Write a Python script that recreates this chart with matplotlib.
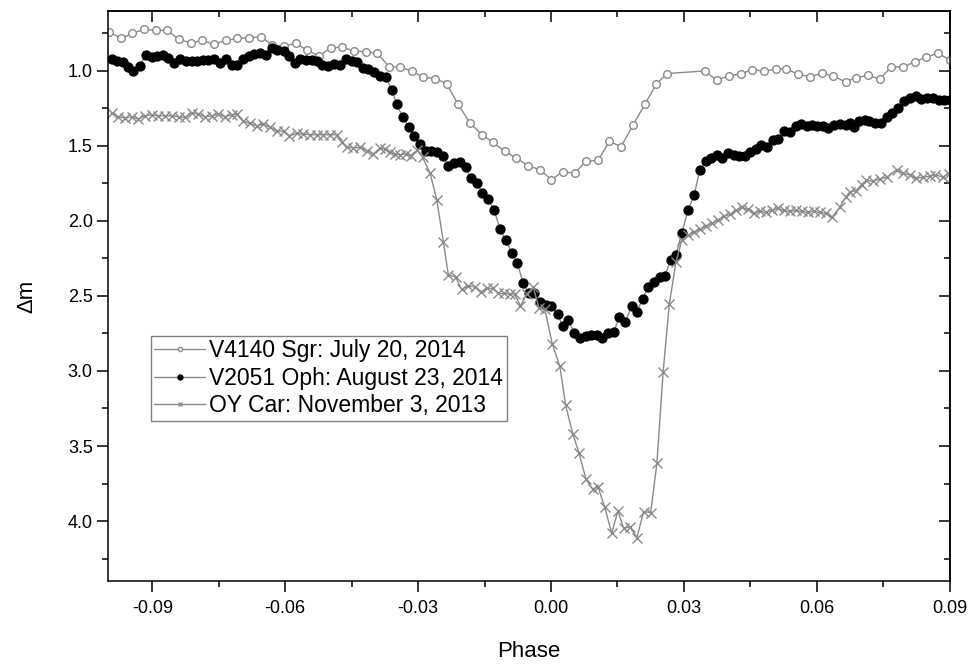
import numpy as np
import matplotlib.pyplot as plt
from matplotlib.ticker import FixedLocator, MultipleLocator

plt.rcParams['font.family'] = ['Liberation Sans', 'DejaVu Sans']

# V4140 Sgr: July 20, 2014
sgr_phase = [-0.0997, -0.0971, -0.0945, -0.0920, -0.0892, -0.0866, -0.0840, -0.0813,
             -0.0787, -0.0761, -0.0734, -0.0708, -0.0682, -0.0655, -0.0629, -0.0604,
             -0.0576, -0.0550, -0.0524, -0.0497, -0.0471, -0.0445, -0.0418, -0.0392,
             -0.0366, -0.0341, -0.0315, -0.0289, -0.0262, -0.0236, -0.0210, -0.0183,
             -0.0155, -0.0131, -0.0104, -0.0078, -0.0052, -0.0025, 0.0001, 0.0027,
             0.0053, 0.0079, 0.0106, 0.0132, 0.0158, 0.0185, 0.0212, 0.0238, 0.0262,
             0.0347, 0.0374, 0.0401, 0.0428, 0.0454, 0.0480, 0.0507, 0.0531, 0.0558,
             0.0584, 0.0612, 0.0637, 0.0665, 0.0689, 0.0716, 0.0742, 0.0768, 0.0795,
             0.0821, 0.0847, 0.0874, 0.0900]
sgr_mag = [0.739, 0.783, 0.750, 0.723, 0.728, 0.730, 0.790, 0.812,
           0.796, 0.823, 0.796, 0.783, 0.779, 0.772, 0.827, 0.834,
           0.816, 0.863, 0.900, 0.845, 0.841, 0.867, 0.872, 0.882,
           0.971, 0.973, 1.000, 1.040, 1.051, 1.084, 1.221, 1.347,
           1.427, 1.476, 1.536, 1.582, 1.631, 1.659, 1.724, 1.671,
           1.682, 1.602, 1.596, 1.469, 1.505, 1.361, 1.221, 1.086, 1.017,
           1.000, 1.062, 1.033, 1.018, 0.993, 1.000, 0.989, 0.985, 1.022,
           1.038, 1.015, 1.033, 1.073, 1.044, 1.029, 1.055, 0.973, 0.973,
           0.940, 0.907, 0.882, 0.927]

# V2051 Oph: August 23, 2014
oph_phase = [-0.0992, -0.0979, -0.0966, -0.0954, -0.0943, -0.0929, -0.0914, -0.0901,
             -0.0889, -0.0875, -0.0864, -0.0851, -0.0838, -0.0824, -0.0811, -0.0799,
             -0.0786, -0.0774, -0.0761, -0.0747, -0.0734, -0.0721, -0.0710, -0.0696,
             -0.0683, -0.0671, -0.0657, -0.0644, -0.0631, -0.0618, -0.0604, -0.0592,
             -0.0579, -0.0567, -0.0553, -0.0540, -0.0529, -0.0516, -0.0503, -0.0490,
             -0.0477, -0.0463, -0.0450, -0.0437, -0.0424, -0.0413, -0.0400, -0.0386,
             -0.0373, -0.0360, -0.0348, -0.0335, -0.0321, -0.0309, -0.0296, -0.0282,
             -0.0270, -0.0258, -0.0245, -0.0232, -0.0219, -0.0206, -0.0193, -0.0181,
             -0.0168, -0.0155, -0.0143, -0.0128, -0.0115, -0.0102, -0.0089, -0.0076,
             -0.0063, -0.0050, -0.0038, -0.0025, -0.0012, 0.0001, 0.0015, 0.0026,
             0.0039, 0.0052, 0.0065, 0.0078, 0.0090, 0.0103, 0.0115, 0.0129, 0.0142,
             0.0154, 0.0168, 0.0182, 0.0193, 0.0207, 0.0219, 0.0232, 0.0246, 0.0257,
             0.0270, 0.0282, 0.0295, 0.0309, 0.0323, 0.0336, 0.0349, 0.0361, 0.0374,
             0.0386, 0.0400, 0.0413, 0.0425, 0.0437, 0.0450, 0.0462, 0.0475, 0.0488,
             0.0501, 0.0513, 0.0525, 0.0539, 0.0552, 0.0564, 0.0577, 0.0589, 0.0601,
             0.0614, 0.0625, 0.0639, 0.0652, 0.0665, 0.0674, 0.0683, 0.0695, 0.0708,
             0.0719, 0.0731, 0.0744, 0.0758, 0.0770, 0.0783, 0.0798, 0.0811, 0.0825,
             0.0836, 0.0849, 0.0862, 0.0875, 0.0887, 0.0900]
oph_mag = [0.922, 0.934, 0.938, 0.973, 1.000, 0.967, 0.894, 0.907,
           0.900, 0.896, 0.912, 0.945, 0.922, 0.934, 0.934, 0.934,
           0.929, 0.925, 0.920, 0.945, 0.922, 0.962, 0.960, 0.922,
           0.900, 0.889, 0.882, 0.894, 0.849, 0.863, 0.867, 0.900,
           0.945, 0.922, 0.929, 0.929, 0.934, 0.962, 0.967, 0.952,
           0.962, 0.918, 0.934, 0.940, 0.978, 0.989, 1.007, 1.033,
           1.040, 1.126, 1.222, 1.310, 1.372, 1.432, 1.487, 1.531,
           1.536, 1.542, 1.564, 1.631, 1.613, 1.604, 1.642, 1.715,
           1.747, 1.811, 1.852, 1.930, 2.056, 2.129, 2.211, 2.280,
           2.416, 2.483, 2.483, 2.539, 2.560, 2.565, 2.620, 2.698,
           2.660, 2.748, 2.782, 2.766, 2.760, 2.760, 2.778, 2.744, 2.738,
           2.642, 2.671, 2.567, 2.605, 2.523, 2.443, 2.406, 2.376, 2.366,
           2.262, 2.228, 2.082, 1.930, 1.830, 1.657, 1.598, 1.582, 1.558,
           1.580, 1.549, 1.560, 1.564, 1.569, 1.542, 1.520, 1.493, 1.505,
           1.460, 1.454, 1.403, 1.410, 1.365, 1.354, 1.370, 1.361, 1.370,
           1.365, 1.380, 1.361, 1.354, 1.359, 1.347, 1.376, 1.332, 1.327,
           1.332, 1.350, 1.350, 1.305, 1.277, 1.250, 1.199, 1.181, 1.166,
           1.188, 1.181, 1.181, 1.193, 1.195, 1.195]

# OY Car: November 3, 2013
car_phase = [-0.0992, -0.0977, -0.0962, -0.0947, -0.0932, -0.0917, -0.0901, -0.0887,
             -0.0871, -0.0856, -0.0841, -0.0826, -0.0811, -0.0796, -0.0781, -0.0766,
             -0.0751, -0.0736, -0.0721, -0.0710, -0.0695, -0.0680, -0.0664, -0.0650,
             -0.0634, -0.0619, -0.0604, -0.0591, -0.0574, -0.0559, -0.0544, -0.0529,
             -0.0514, -0.0499, -0.0484, -0.0473, -0.0461, -0.0446, -0.0431, -0.0416,
             -0.0401, -0.0386, -0.0375, -0.0364, -0.0352, -0.0340, -0.0328, -0.0317,
             -0.0302, -0.0290, -0.0273, -0.0258, -0.0243, -0.0232, -0.0215, -0.0202,
             -0.0187, -0.0172, -0.0157, -0.0144, -0.0132, -0.0119, -0.0106, -0.0093,
             -0.0082, -0.0069, -0.0055, -0.0040, -0.0027, -0.0014, 0.0003, 0.0020,
             0.0033, 0.0049, 0.0063, 0.0079, 0.0094, 0.0106, 0.0121, 0.0137, 0.0151,
             0.0164, 0.0178, 0.0194, 0.0209, 0.0225, 0.0239, 0.0253, 0.0267, 0.0282,
             0.0295, 0.0309, 0.0322, 0.0336, 0.0349, 0.0363, 0.0376, 0.0390, 0.0404,
             0.0417, 0.0431, 0.0444, 0.0458, 0.0471, 0.0485, 0.0498, 0.0512, 0.0525,
             0.0539, 0.0552, 0.0566, 0.0580, 0.0593, 0.0607, 0.0620, 0.0634, 0.0652,
             0.0665, 0.0674, 0.0689, 0.0701, 0.0712, 0.0728, 0.0742, 0.0758, 0.0780,
             0.0795, 0.0810, 0.0825, 0.0840, 0.0855, 0.0868, 0.0884, 0.0898]
car_mag = [1.277, 1.305, 1.314, 1.305, 1.321, 1.299, 1.292, 1.299,
           1.299, 1.299, 1.305, 1.310, 1.277, 1.288, 1.305, 1.299,
           1.288, 1.305, 1.292, 1.288, 1.332, 1.350, 1.365, 1.354,
           1.376, 1.398, 1.403, 1.432, 1.416, 1.420, 1.425, 1.425,
           1.425, 1.425, 1.425, 1.476, 1.509, 1.513, 1.509, 1.531,
           1.553, 1.515, 1.520, 1.542, 1.553, 1.558, 1.553, 1.564,
           1.527, 1.576, 1.682, 1.859, 2.140, 2.357, 2.376, 2.456,
           2.434, 2.439, 2.472, 2.450, 2.450, 2.483, 2.483, 2.487,
           2.487, 2.567, 2.487, 2.443, 2.582, 2.589, 2.821, 2.970,
           3.229, 3.417, 3.545, 3.722, 3.789, 3.771, 3.906, 4.081, 3.933,
           4.048, 4.039, 4.110, 3.937, 3.944, 3.616, 3.010, 2.554, 2.275,
           2.129, 2.096, 2.076, 2.056, 2.036, 2.016, 1.996, 1.969, 1.956,
           1.930, 1.910, 1.923, 1.950, 1.936, 1.943, 1.930, 1.916, 1.930,
           1.936, 1.930, 1.936, 1.943, 1.936, 1.943, 1.950, 1.976, 1.908,
           1.843, 1.808, 1.797, 1.757, 1.730, 1.735, 1.719, 1.708, 1.659,
           1.682, 1.693, 1.715, 1.708, 1.702, 1.691, 1.708, 1.686]

xticks = [-0.09, -0.06, -0.03, 0.00, 0.03, 0.06, 0.09]
xtick_labels = ['-0.09', '-0.06', '-0.03', '0.00', '0.03', '0.06', '0.09']
yticks = [1.0, 1.5, 2.0, 2.5, 3.0, 3.5, 4.0]
ytick_labels = ['1.0', '1.5', '2.0', '2.5', '3.0', '3.5', '4.0']

line_gray = '#8a8a8a'

fig = plt.figure(figsize=(9.74, 6.65), dpi=100)
ax = fig.add_axes([0.111, 0.1263, 0.864, 0.8572])

ax.plot(sgr_phase, sgr_mag, '-', color=line_gray, lw=1.0, marker='o', ms=5.5,
        mfc='white', mec='#8a8a8a', mew=1.0, label='V4140 Sgr: July 20, 2014')
ax.plot(oph_phase, oph_mag, '-', color=line_gray, lw=1.0, marker='o', ms=6.4,
        mfc='black', mec='black', label='V2051 Oph: August 23, 2014')
ax.plot(car_phase, car_mag, '-', color=line_gray, lw=1.0, marker='x', ms=6.5,
        mec='#8a8a8a', mew=1.0, label='OY Car: November 3, 2013')

ax.set_xlim(-0.1, 0.09)
ax.set_ylim(4.4, 0.6)

ax.xaxis.set_major_locator(FixedLocator(xticks))
ax.set_xticklabels(xtick_labels)
ax.xaxis.set_minor_locator(MultipleLocator(0.015))
ax.yaxis.set_major_locator(FixedLocator(yticks))
ax.set_yticklabels(ytick_labels)
ax.yaxis.set_minor_locator(MultipleLocator(0.25))

ax.tick_params(which='major', direction='out', length=8, width=1.1, labelsize=13)
ax.tick_params(which='minor', direction='out', length=4.3, width=1.1)
ax.tick_params(axis='x', which='major', pad=6)
ax.tick_params(axis='y', which='major', pad=3)

# inward ticks on the top and right sides
top = ax.secondary_xaxis('top')
top.xaxis.set_major_locator(FixedLocator(xticks))
top.xaxis.set_minor_locator(MultipleLocator(0.015))
top.tick_params(which='major', direction='in', length=8, width=1.1, labeltop=False)
top.tick_params(which='minor', direction='in', length=4.3, width=1.1)
right = ax.secondary_yaxis('right')
right.yaxis.set_major_locator(FixedLocator(yticks))
right.yaxis.set_minor_locator(MultipleLocator(0.25))
right.tick_params(which='major', direction='in', length=8, width=1.1, labelright=False)
right.tick_params(which='minor', direction='in', length=4.3, width=1.1)

for sp in list(ax.spines.values()) + [top.spines['top'], right.spines['right']]:
    sp.set_linewidth(1.1)

ax.set_xlabel('Phase', fontsize=16, labelpad=17)
ax.set_ylabel('Δm', fontsize=16, labelpad=22)

leg = ax.legend(loc='lower left', bbox_to_anchor=(0.051, 0.281), fontsize=16.5,
                frameon=True, fancybox=False, edgecolor='#808080', framealpha=1,
                borderpad=0.15, handlelength=2.2, handletextpad=0.2,
                labelspacing=0.2, borderaxespad=0, markerscale=0.55)
leg.get_frame().set_linewidth(1.0)

plt.savefig('out.png', dpi=100)
